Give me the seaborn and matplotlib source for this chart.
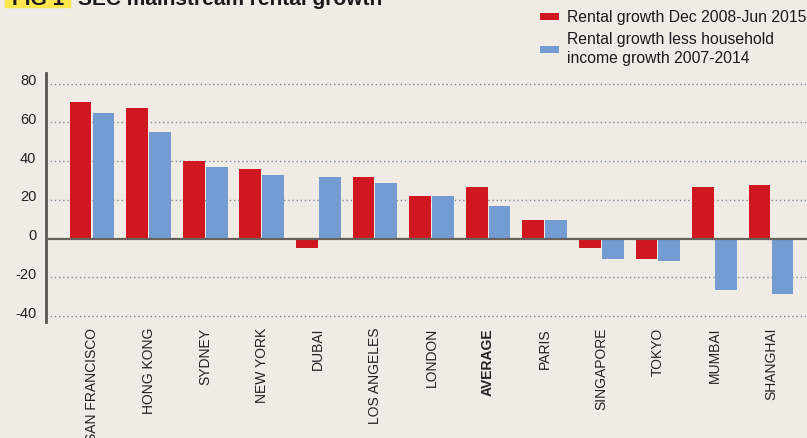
import matplotlib
matplotlib.use("Agg")
import matplotlib.pyplot as plt
import seaborn as sns
import pandas as pd
from matplotlib.transforms import ScaledTranslation
from matplotlib.patches import Rectangle

# ---- data ----
cities = ["SAN FRANCISCO", "HONG KONG", "SYDNEY", "NEW YORK", "DUBAI", "LOS ANGELES",
          "LONDON", "AVERAGE", "PARIS", "SINGAPORE", "TOKYO", "MUMBAI", "SHANGHAI"]
rental_growth = [70.5, 67.5, 40, 36, -5, 32, 22, 26.5, 9.5, -5, -10.5, 26.5, 27.5]
growth_less_income = [65, 55, 37, 33, 32, 28.5, 22, 17, 9.5, -10.5, -11.5, -26.5, -28.5]
series_names = ["Rental growth Dec 2008-Jun 2015",
                "Rental growth less household\nincome growth 2007-2014"]
y_ticks = [-40, -20, 0, 20, 40, 60, 80]
title_tag = "FIG 1"
title_text = "SEC mainstream rental growth"

BG = "#f0ebe5"
RED = "#d0161f"
BLUE = "#739dd2"

df = pd.DataFrame({
    "city": cities * 2,
    "value": rental_growth + growth_less_income,
    "series": [series_names[0]] * len(cities) + [series_names[1]] * len(cities),
})

sns.set_theme(style="white")
plt.rcParams["font.family"] = ["Liberation Sans", "DejaVu Sans"]

W, H = 807, 438
fig = plt.figure(figsize=(W / 100, H / 100), dpi=100, facecolor=BG)
ax = fig.add_axes([46 / W, 1 - 322 / H, 1 - 46 / W, (322 - 73) / H])
ax.set_facecolor(BG)

sns.barplot(data=df, x="city", y="value", hue="series", order=cities,
            hue_order=series_names, palette=[RED, BLUE], width=0.81, gap=0.05,
            saturation=1, linewidth=0, errorbar=None, ax=ax)

ax.set_xlim(-0.813, 12.636)
ax.set_ylim(-43, 85.5)
ax.set_yticks(y_ticks)
ax.set_yticklabels([str(t) for t in y_ticks])
ax.set_xlabel("")
ax.set_ylabel("")

ax.set_axisbelow(True)
for t in y_ticks:
    if t != 0:
        ax.axhline(t, color="#7d8a97", lw=1.0, ls=(0, (1, 2)), zorder=0)
ax.axhline(0, color="#66615c", lw=1.6, zorder=5)

for s in ["top", "right", "bottom"]:
    ax.spines[s].set_visible(False)
ax.spines["left"].set_color("#5a5550")
ax.spines["left"].set_linewidth(2)

ax.tick_params(axis="both", length=0)
ax.tick_params(axis="y", pad=7.0, labelsize=10.5, labelcolor="#222222")
ax.tick_params(axis="x", pad=4.3, labelsize=10, labelcolor="#222222")
off = ScaledTranslation(0, 4 / 100, fig.dpi_scale_trans)
for lab in ax.get_yticklabels():
    lab.set_transform(lab.get_transform() + off)
for lab in ax.get_xticklabels():
    lab.set_rotation(90)
    lab.set_va("top")
    lab.set_ha("center")
    if lab.get_text() == "AVERAGE":
        lab.set_fontweight("bold")

handles, labels = ax.get_legend_handles_labels()
leg = ax.legend(handles, labels, loc="upper left", bbox_to_anchor=(540 / W, 1 - 10 / H),
                bbox_transform=fig.transFigure, frameon=False, fontsize=11.3,
                handlelength=1.2, handleheight=0.3, handletextpad=0.5,
                labelspacing=0.45, borderpad=0, borderaxespad=0)
for t in leg.get_texts():
    t.set_linespacing(1.3)
    t.set_color("#1a1a1a")

# clipped title at the top
fig.patches.append(Rectangle((5 / W, 1 - 7 / H), 65 / W, 30 / H,
                             transform=fig.transFigure, color="#fde74c", zorder=0))
fig.text(12 / W, 1 - 5 / H, title_tag, fontsize=15, fontweight="bold",
         color="#1a1a1a", va="baseline", ha="left")
fig.text(78 / W, 1 - 5 / H, title_text, fontsize=15, fontweight="bold",
         color="#1a1a1a", va="baseline", ha="left")

fig.savefig("out.png", dpi=100, facecolor=BG)
